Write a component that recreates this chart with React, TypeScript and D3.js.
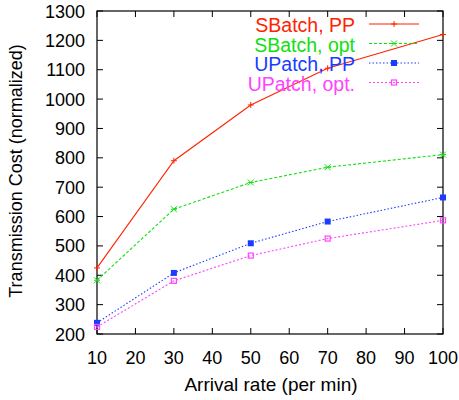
import React from "react";
import * as d3 from "d3";

const xValues = [10, 30, 50, 70, 100];
const sbatchPP = [425, 790, 980, 1105, 1220];
const sbatchOpt = [383, 625, 716, 768, 811];
const upatchPP = [238, 408, 509, 583, 665];
const upatchOpt = [224, 381, 467, 525, 587];
const xTicks = [10, 20, 30, 40, 50, 60, 70, 80, 90, 100];
const yTicks = [200, 300, 400, 500, 600, 700, 800, 900, 1000, 1100, 1200, 1300];
const seriesNames = ["SBatch, PP", "SBatch, opt", "UPatch, PP", "UPatch, opt."];

const W = 459, H = 400;
const L = 97, R = 443, T = 11, B = 334;
const font = "Liberation Sans, Arial, Helvetica, sans-serif";

export default function App() {
  const x = d3.scaleLinear().domain([10, 100]).range([L, R]);
  const y = d3.scaleLinear().domain([200, 1300]).range([B, T]);
  const line = d3.line<number>().x((_, i) => x(xValues[i])).y((d) => y(d));

  const series = [
    { name: seriesNames[0], data: sbatchPP, color: "#ff2200", dash: "", marker: "plus" },
    { name: seriesNames[1], data: sbatchOpt, color: "#11e011", dash: "3,2", marker: "x" },
    { name: seriesNames[2], data: upatchPP, color: "#1a3cff", dash: "1.5,2", marker: "fsq" },
    { name: seriesNames[3], data: upatchOpt, color: "#ff44ff", dash: "2,2", marker: "osq" },
  ];

  const marker = (kind: string, cx: number, cy: number, color: string, key: string) => {
    if (kind === "plus")
      return (
        <path key={key} d={`M${cx - 3},${cy}H${cx + 3}M${cx},${cy - 3}V${cy + 3}`} stroke={color} strokeWidth={1} />
      );
    if (kind === "x")
      return (
        <path key={key} d={`M${cx - 3},${cy - 3}L${cx + 3},${cy + 3}M${cx - 3},${cy + 3}L${cx + 3},${cy - 3}M${cx-3},${cy}H${cx+3}`} stroke={color} strokeWidth={1} />
      );
    if (kind === "fsq")
      return <rect key={key} x={cx - 3} y={cy - 3} width={6} height={6} fill={color} />;
    return <rect key={key} x={cx - 2.5} y={cy - 2.5} width={5} height={5} fill="none" stroke={color} strokeWidth={1.2} />;
  };

  return (
    <svg width={W} height={H} style={{ position: "absolute", left: 0, top: 0, background: "#fff" }} fontFamily={font}>
      {xTicks.map((t) => (
        <g key={"xt" + t}>
          <line x1={x(t)} x2={x(t)} y1={B} y2={B - 6} stroke="#000" />
          <line x1={x(t)} x2={x(t)} y1={T} y2={T + 6} stroke="#000" />
          <text x={x(t)} y={363.5} fontSize={18} textAnchor="middle" fill="#000">{t}</text>
        </g>
      ))}
      {yTicks.map((t) => (
        <g key={"yt" + t}>
          <line x1={L} x2={L + 6} y1={y(t)} y2={y(t)} stroke="#000" />
          <line x1={R} x2={R - 6} y1={y(t)} y2={y(t)} stroke="#000" />
          <text x={85} y={y(t) + 6.5} fontSize={18} textAnchor="end" fill="#000">{t}</text>
        </g>
      ))}
      <rect x={L} y={T} width={R - L} height={B - T} fill="none" stroke="#000" strokeWidth={1.2} />
      {series.map((s, si) => (
        <g key={s.name}>
          <path d={line(s.data) || ""} fill="none" stroke={s.color} strokeWidth={1.1} strokeDasharray={s.dash} />
          {s.data.map((v, i) => marker(s.marker, x(xValues[i]), y(v), s.color, s.name + i))}
          <text x={355} y={32 + si * 19.5} fontSize={19.5} textAnchor="end" fill={s.color}>{s.name}</text>
          <line x1={369} x2={419} y1={24 + si * 19.5} y2={24 + si * 19.5} stroke={s.color} strokeWidth={1.1} strokeDasharray={s.dash} />
          {marker(s.marker, 394, 24 + si * 19.5, s.color, s.name + "leg")}
        </g>
      ))}
      <text x={271} y={391} fontSize={19} textAnchor="middle" fill="#000">Arrival rate (per min)</text>
      <text transform={`translate(22,171) rotate(-90)`} fontSize={18} textAnchor="middle" fill="#000">Transmission Cost (normalized)</text>
    </svg>
  );
}
